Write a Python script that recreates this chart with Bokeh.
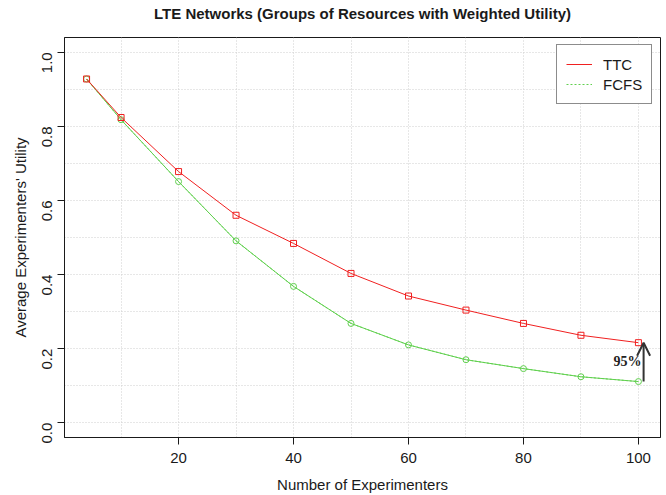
import math
from bokeh.plotting import figure
from bokeh.models import (ColumnDataSource, FixedTicker, Grid, Legend, LegendItem,
                          Arrow, OpenHead, Label, Range1d, PrintfTickFormatter, Title)
from bokeh.embed import file_html
from bokeh.resources import INLINE

title_text = "LTE Networks (Groups of Resources with Weighted Utility)"
experimenters = [4, 10, 20, 30, 40, 50, 60, 70, 80, 90, 100]
ttc = [0.928, 0.824, 0.678, 0.560, 0.484, 0.403, 0.342, 0.304, 0.268, 0.236, 0.216]
fcfs = [0.928, 0.818, 0.651, 0.491, 0.368, 0.268, 0.210, 0.170, 0.146, 0.124, 0.111]
x_ticks = [20, 40, 60, 80, 100]
y_ticks = [0.0, 0.2, 0.4, 0.6, 0.8, 1.0]
x_grid = [10, 20, 30, 40, 50, 60, 70, 80, 90, 100]
y_grid = [0.0, 0.1, 0.2, 0.3, 0.4, 0.5, 0.6, 0.7, 0.8, 0.9, 1.0]
arrow_x = 100.9
arrow_from = fcfs[-1]
arrow_to = ttc[-1]
label_text = "95%"
label_x = 98.1
label_y = 0.164

RED = "#f02020"
GREEN = "#61D04F"
TXT = "#1a1a1a"
FONT = "Liberation Sans"

p = figure(width=666, height=495, output_backend="svg", toolbar_location=None,
           x_range=Range1d(0.16, 103.84), y_range=Range1d(-0.04, 1.04),
           min_border_left=64, min_border_right=6, min_border_top=37, min_border_bottom=51)
p.title = None
p.grid.visible = False
p.outline_line_color = TXT
p.outline_line_width = 1

# spacer title (closest to the frame), then the real title stacked above it
p.add_layout(Title(text=" ", text_font_size="1px", standoff=13), "above")
p.add_layout(Title(text=title_text, align="center", text_font=FONT, text_font_size="15px",
                   text_font_style="bold", text_color=TXT, standoff=0), "above")

for g in [Grid(dimension=0, ticker=FixedTicker(ticks=x_grid)),
          Grid(dimension=1, ticker=FixedTicker(ticks=y_grid))]:
    g.grid_line_color = "#cfcfcf"
    g.grid_line_dash = "1 2"
    g.grid_line_width = 1
    p.add_layout(g, "center")

xa = p.xaxis[0]
xa.ticker = FixedTicker(ticks=x_ticks)
xa.axis_label = "Number of Experimenters"
ya = p.yaxis[0]
ya.ticker = FixedTicker(ticks=y_ticks)
ya.formatter = PrintfTickFormatter(format="%.1f")
ya.axis_label = "Average Experimenters' Utility"
ya.major_label_orientation = math.pi / 2
for ax in (xa, ya):
    ax.axis_line_color = TXT
    ax.major_tick_line_color = TXT
    ax.major_tick_out = 7
    ax.major_tick_in = 0
    ax.minor_tick_line_color = None
    ax.major_label_text_font = FONT
    ax.major_label_text_font_size = "15px"
    ax.major_label_text_color = TXT
    ax.axis_label_text_font = FONT
    ax.axis_label_text_font_size = "15px"
    ax.axis_label_text_font_style = "normal"
    ax.axis_label_text_color = TXT
xa.major_label_standoff = 8
xa.axis_label_standoff = 10
ya.major_label_standoff = 10
ya.axis_label_standoff = 6

src = ColumnDataSource(dict(x=experimenters, ttc=ttc, fcfs=fcfs))
p.line("x", "fcfs", source=src, line_color=GREEN, line_width=1)
leg_fcfs = p.line("x", "fcfs", source=src, line_color=GREEN, line_width=1, line_dash="2 2")
p.scatter("x", "fcfs", source=src, marker="circle", size=6, fill_color=None,
          line_color=GREEN, line_width=1)
leg_ttc = p.line("x", "ttc", source=src, line_color=RED, line_width=1)
p.scatter("x", "ttc", source=src, marker="square", size=6, fill_color=None,
          line_color=RED, line_width=1)

legend = Legend(items=[LegendItem(label="TTC", renderers=[leg_ttc]),
                       LegendItem(label="FCFS", renderers=[leg_fcfs])],
                location=(492, 333), orientation="vertical")
legend.padding = 9
legend.margin = 0
legend.spacing = 0
legend.glyph_width = 26
legend.glyph_height = 20
legend.label_height = 20
legend.label_standoff = 11
legend.label_text_font = FONT
legend.label_text_font_size = "15px"
legend.label_text_color = TXT
legend.border_line_color = TXT
legend.border_line_width = 1
legend.background_fill_color = "white"
legend.background_fill_alpha = 1
p.add_layout(legend, "center")

p.add_layout(Arrow(end=OpenHead(size=13, line_color="#333333", line_width=2),
                   x_start=arrow_x, y_start=arrow_from, x_end=arrow_x, y_end=arrow_to,
                   line_color="#333333", line_width=2))
p.add_layout(Label(x=label_x, y=label_y, text=label_text, text_font="Liberation Serif",
                   text_font_style="bold", text_font_size="14px", text_color="#222222",
                   text_align="center", text_baseline="middle"))

open("out.html", "w").write(file_html(p, INLINE))
